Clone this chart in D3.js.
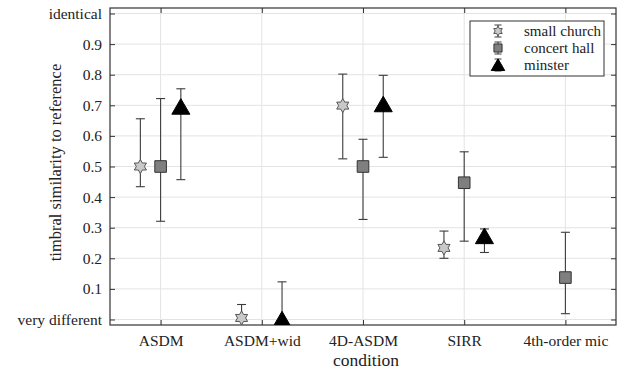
<!DOCTYPE html>
<html>
<head>
<meta charset="utf-8">
<script src="https://cdn.jsdelivr.net/npm/d3@7"></script>
<style>
  body { margin: 0; background: #fff; }
  text { font-family: Liberation Serif, serif; fill: #222; }
</style>
</head>
<body>
<div id="chart"></div>
<script>
// data
const conditions = ['ASDM', 'ASDM+wid', '4D-ASDM', 'SIRR', '4th-order mic'];
const seriesNames = ['small church', 'concert hall', 'minster'];
// value, lower end, upper end (null = not tested)
const smallChurch = [
  [0.50, 0.434, 0.656],
  [0.005, -0.05, 0.049],
  [0.699, 0.525, 0.802],
  [0.234, 0.200, 0.289],
  null
];
const concertHall = [
  [0.50, 0.321, 0.722],
  null,
  [0.50, 0.327, 0.589],
  [0.447, 0.256, 0.548],
  [0.137, 0.019, 0.285]
];
const minster = [
  [0.695, 0.457, 0.754],
  [0.0, -0.1, 0.123],
  [0.703, 0.530, 0.798],
  [0.272, 0.219, 0.296],
  null
];
const yTicks = [0, 0.1, 0.2, 0.3, 0.4, 0.5, 0.6, 0.7, 0.8, 0.9, 1];
const yTickLabels = ['very different', '0.1', '0.2', '0.3', '0.4', '0.5', '0.6', '0.7', '0.8', '0.9', 'identical'];

const FONT = "'Liberation Serif', serif";
const W = 621, H = 370;
const margin = {top: 8, right: 5, bottom: 45, left: 110};
const width = W - margin.left - margin.right;
const height = H - margin.top - margin.bottom;

const x = d3.scaleLinear().domain([0.5, 5.5]).range([0, width]);
const y = d3.scaleLinear().domain([-0.018, 1.018]).range([height, 0]);
const offset = 0.2;

const svg = d3.select('#chart').append('svg')
  .attr('width', W)
  .attr('height', H)
  .append('g')
  .attr('transform', 'translate(' + margin.left + ',' + margin.top + ')');

svg.append('defs').append('clipPath').attr('id', 'plotclip')
  .append('rect').attr('width', width).attr('height', height);

// grid
svg.append('g').selectAll('line.gy')
  .data(yTicks).enter().append('line')
  .attr('x1', 0).attr('x2', width)
  .attr('y1', d => y(d)).attr('y2', d => y(d))
  .style('stroke', '#e3e3e3').style('stroke-width', 1);
svg.append('g').selectAll('line.gx')
  .data(conditions).enter().append('line')
  .attr('x1', (d, i) => x(i + 1)).attr('x2', (d, i) => x(i + 1))
  .attr('y1', 0).attr('y2', height)
  .style('stroke', '#e3e3e3').style('stroke-width', 1);

// axes (ticks inward, box on all sides)
const tickLen = 5;
const xAxis = d3.axisBottom(x).tickValues([1, 2, 3, 4, 5])
  .tickFormat(d => conditions[d - 1]).tickSizeInner(-tickLen).tickSizeOuter(0).tickPadding(10);
const yAxis = d3.axisLeft(y).tickValues(yTicks)
  .tickFormat((d, i) => yTickLabels[i]).tickSizeInner(-tickLen).tickSizeOuter(0).tickPadding(8);

const gx = svg.append('g')
  .attr('transform', 'translate(0,' + height + ')')
  .call(xAxis);
const gy = svg.append('g').call(yAxis);
const gxTop = svg.append('g').call(d3.axisTop(x).tickValues([1, 2, 3, 4, 5]).tickFormat('').tickSizeInner(-tickLen).tickSizeOuter(0));
const gyRight = svg.append('g').attr('transform', 'translate(' + width + ',0)')
  .call(d3.axisRight(y).tickValues(yTicks).tickFormat('').tickSizeInner(-tickLen).tickSizeOuter(0));

[gx, gy, gxTop, gyRight].forEach(g => {
  g.attr('font-family', null);
  g.select('.domain').remove();
  g.selectAll('line').style('stroke', '#333').style('stroke-width', 1);
  g.selectAll('text').style('font-size', '15.5px').style('fill', '#222')
    .style('font-family', FONT);
});

svg.append('rect')
  .attr('width', width).attr('height', height)
  .style('fill', 'none').style('stroke', '#333').style('stroke-width', 1.2);

// axis titles
svg.append('text')
  .attr('x', width / 2 + 3).attr('y', height + 41)
  .style('text-anchor', 'middle').style('font-size', '17.5px').style('font-family', FONT)
  .text('condition');
svg.append('text')
  .attr('transform', 'translate(' + (-49) + ',' + (height / 2 - 4) + ') rotate(-90)')
  .style('text-anchor', 'middle').style('font-size', '16.5px').style('font-family', FONT)
  .text('timbral similarity to reference');

// marker shapes
function hexagram(r) {
  const pts = [];
  const ri = r / Math.sqrt(3);
  for (let k = 0; k < 12; k++) {
    const a = -Math.PI / 2 + k * Math.PI / 6;
    const rr = k % 2 === 0 ? r : ri;
    pts.push([rr * Math.cos(a), rr * Math.sin(a)]);
  }
  return 'M' + pts.map(p => p.join(',')).join('L') + 'Z';
}
function square(s) {
  return 'M' + (-s) + ',' + (-s) + 'H' + s + 'V' + s + 'H' + (-s) + 'Z';
}
function triangle(s) {
  return 'M0,' + (-s) + 'L' + (s * 1.1) + ',' + (s * 0.9) + 'L' + (-s * 1.1) + ',' + (s * 0.9) + 'Z';
}

const series = [
  {name: seriesNames[0], data: smallChurch, dx: -offset, path: hexagram(7), fill: '#c9c9c9', stroke: '#555', sw: 1},
  {name: seriesNames[1], data: concertHall, dx: 0, path: square(5.8), fill: '#7f7f7f', stroke: '#333', sw: 1},
  {name: seriesNames[2], data: minster, dx: offset, path: triangle(8.2), fill: '#000', stroke: '#000', sw: 1}
];

const plot = svg.append('g').attr('clip-path', 'url(#plotclip)');
const capW = 4.5;

series.forEach(s => {
  const pts = s.data.map((d, i) => d ? {c: i + 1, v: d[0], lo: d[1], hi: d[2]} : null).filter(d => d);
  const g = plot.append('g');
  const eb = g.selectAll('g.eb').data(pts).enter().append('g')
    .style('stroke', '#3c3c3c').style('stroke-width', 1.1);
  eb.append('line')
    .attr('x1', d => x(d.c + s.dx)).attr('x2', d => x(d.c + s.dx))
    .attr('y1', d => y(d.lo)).attr('y2', d => y(d.hi));
  eb.append('line')
    .attr('x1', d => x(d.c + s.dx) - capW).attr('x2', d => x(d.c + s.dx) + capW)
    .attr('y1', d => y(d.lo)).attr('y2', d => y(d.lo));
  eb.append('line')
    .attr('x1', d => x(d.c + s.dx) - capW).attr('x2', d => x(d.c + s.dx) + capW)
    .attr('y1', d => y(d.hi)).attr('y2', d => y(d.hi));
  g.selectAll('path.m').data(pts).enter().append('path')
    .attr('d', s.path)
    .attr('transform', d => 'translate(' + x(d.c + s.dx) + ',' + y(d.v) + ')')
    .style('fill', s.fill).style('stroke', s.stroke).style('stroke-width', s.sw);
});

// legend
const lg = svg.append('g').attr('transform', 'translate(' + (470 - margin.left) + ',' + (21 - margin.top) + ')');
lg.append('rect').attr('width', 134).attr('height', 55)
  .style('fill', '#fff').style('stroke', '#333').style('stroke-width', 1);
series.forEach((s, i) => {
  const cy = 10 + i * 17;
  const row = lg.append('g').attr('transform', 'translate(28,' + cy + ')');
  row.append('line').attr('x1', 0).attr('x2', 0).attr('y1', -6).attr('y2', 6)
    .style('stroke', '#3c3c3c');
  [-6, 6].forEach(yy => row.append('line').attr('x1', -3.5).attr('x2', 3.5).attr('y1', yy).attr('y2', yy)
    .style('stroke', '#3c3c3c'));
  const sc = i === 2 ? 0.75 : 0.7;
  row.append('path').attr('d', s.path).attr('transform', 'scale(' + sc + ')')
    .style('fill', s.fill).style('stroke', s.stroke).style('stroke-width', s.sw / sc);
  lg.append('text').attr('x', 54).attr('y', cy + 5)
    .style('font-size', '15px').style('font-family', FONT).text(s.name);
});
</script>
</body>
</html>
